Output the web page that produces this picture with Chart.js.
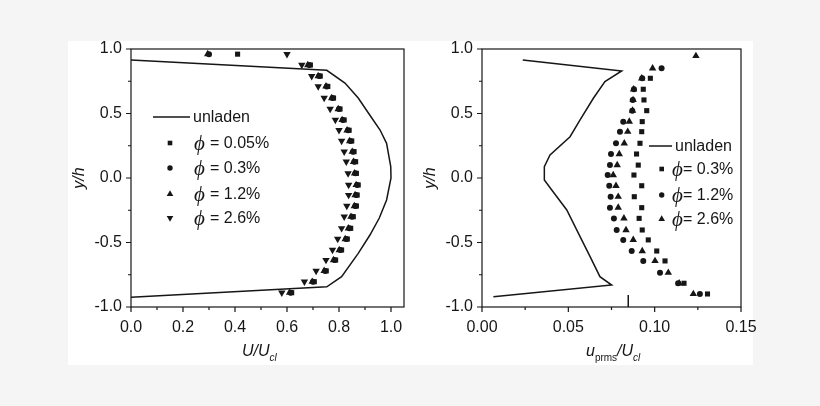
<!DOCTYPE html>
<html>
<head>
<meta charset="utf-8">
<script src="https://cdn.jsdelivr.net/npm/chart.js@4.4.0/dist/chart.umd.min.js"></script>
<style>
  html, body { margin: 0; padding: 0; background: #f5f5f5; }
  #wrap { position: relative; width: 820px; height: 406px; overflow: hidden; }
  #paper { position: absolute; left: 68px; top: 41px; width: 685px; height: 324px; background: #fff; }
  #c1 { position: absolute; left: 0; top: 0; }
  #c2 { position: absolute; left: 420px; top: 0; }
</style>
</head>
<body>
<div id="wrap">
  <div id="paper"></div>
  <canvas id="c1" width="420" height="406"></canvas>
  <canvas id="c2" width="400" height="406"></canvas>
</div>
<script>
// left panel: mean velocity
const leftY = [0.96, 0.876, 0.79, 0.71, 0.62, 0.535, 0.45, 0.37, 0.287, 0.204, 0.126, 0.036, -0.054, -0.132, -0.217, -0.30, -0.39, -0.473, -0.558, -0.636, -0.72, -0.804, -0.889];
const phi005 = [0.41, 0.69, 0.728, 0.757, 0.779, 0.804, 0.82, 0.839, 0.849, 0.858, 0.864, 0.867, 0.874, 0.87, 0.867, 0.855, 0.845, 0.832, 0.81, 0.787, 0.751, 0.705, 0.618];
const phi03 = [0.30, 0.685, 0.724, 0.753, 0.775, 0.80, 0.815, 0.835, 0.844, 0.854, 0.859, 0.863, 0.87, 0.866, 0.863, 0.85, 0.84, 0.828, 0.805, 0.783, 0.747, 0.70, 0.614];
const phi12 = [0.295, 0.68, 0.72, 0.75, 0.772, 0.797, 0.812, 0.831, 0.841, 0.851, 0.856, 0.86, 0.866, 0.862, 0.859, 0.846, 0.836, 0.824, 0.801, 0.779, 0.743, 0.697, 0.61];
const phi26 = [0.60, 0.657, 0.695, 0.72, 0.743, 0.766, 0.786, 0.80, 0.81, 0.82, 0.828, 0.835, 0.837, 0.837, 0.83, 0.82, 0.81, 0.795, 0.775, 0.75, 0.712, 0.667, 0.58];
const unladenUX = [0, 0.753, 0.823, 0.874, 0.913, 0.958, 0.983, 0.999, 1.0, 0.983, 0.955, 0.919, 0.874, 0.81, 0.753, 0];
const unladenUY = [0.915, 0.835, 0.736, 0.62, 0.504, 0.372, 0.269, 0.088, 0.0, -0.17, -0.31, -0.442, -0.584, -0.765, -0.843, -0.925];

// right panel: rms fluctuation
const rightY = [0.946, 0.85, 0.773, 0.688, 0.605, 0.522, 0.437, 0.359, 0.269, 0.186, 0.10, 0.023, -0.06, -0.145, -0.23, -0.313, -0.403, -0.48, -0.566, -0.643, -0.734, -0.816, -0.899];
const rms03 = [null, null, 0.0975, 0.0934, 0.0938, 0.0954, 0.0928, 0.0925, 0.0915, 0.0895, 0.0905, 0.088, 0.0925, 0.0882, 0.0925, 0.091, 0.0928, 0.0963, 0.1012, 0.106, null, 0.117, 0.1306];
const rms12 = [null, 0.104, 0.0928, 0.088, 0.0873, 0.087, 0.0818, 0.0799, 0.0776, 0.0747, 0.0741, 0.0728, 0.0737, 0.0745, 0.0741, 0.0764, 0.078, 0.0818, 0.0867, 0.0934, 0.1031, 0.1136, 0.1262];
const rms26 = [0.1239, 0.0988, 0.0925, 0.0878, 0.0875, 0.0872, 0.0853, 0.0844, 0.0824, 0.0795, 0.0783, 0.076, 0.0776, 0.0789, 0.0789, 0.0822, 0.0834, 0.0876, 0.0928, 0.1002, 0.1079, 0.1142, 0.1224];
const unladenRX = [0.0236, 0.0809, 0.0712, 0.0645, 0.0568, 0.051, 0.0394, 0.0361, 0.0361, 0.0404, 0.0491, 0.0568, 0.0626, 0.0683, 0.0751, 0.0066];
const unladenRY = [0.915, 0.83, 0.747, 0.618, 0.45, 0.32, 0.178, 0.088, -0.016, -0.093, -0.248, -0.455, -0.61, -0.765, -0.83, -0.92];
const markX = [0.0847, 0.0847];
const markY = [-1, -0.907];

// ticks
const yTicks = [-1, -0.75, -0.5, -0.25, 0, 0.25, 0.5, 0.75, 1];
const yLabels = ['-1.0', '', '-0.5', '', '0.0', '', '0.5', '', '1.0'];
const uTicks = [0, 0.1, 0.2, 0.3, 0.4, 0.5, 0.6, 0.7, 0.8, 0.9, 1.0];
const uLabels = ['0.0', '', '0.2', '', '0.4', '', '0.6', '', '0.8', '', '1.0'];
const rmsTicks = [0, 0.025, 0.05, 0.075, 0.1, 0.125, 0.15];
const rmsLabels = ['0.00', '', '0.05', '', '0.10', '', '0.15'];

const leftLegend = ['= 0.05%', '= 0.3%', '= 1.2%', '= 2.6%'];
const rightLegend = ['= 0.3%', '= 1.2%', '= 2.6%'];

const INK = '#161616';
Chart.defaults.font.family = '"Liberation Sans", Arial, sans-serif';
Chart.defaults.font.size = 16;
Chart.defaults.color = INK;

function pts(xs, ys) {
  const out = [];
  xs.forEach((x, i) => { if (x !== null) out.push({ x: x, y: ys[i] }); });
  return out;
}

function markers(label, xs, ys, style, radius, rotation) {
  return {
    label: label,
    data: pts(xs, ys),
    pointStyle: style,
    pointRadius: radius,
    pointRotation: rotation || 0,
    pointBackgroundColor: INK,
    pointBorderWidth: 0,
    showLine: false
  };
}

function curve(label, xs, ys) {
  return {
    label: label,
    data: pts(xs, ys),
    showLine: true,
    borderColor: INK,
    borderWidth: 1.5,
    pointRadius: 0,
    tension: 0
  };
}

function axis(vals, labels, min, max, size, horiz) {
  return {
    type: 'linear',
    min: min,
    max: max,
    afterBuildTicks: s => { s.ticks = vals.map(v => ({ value: v })); },
    afterFit: s => { if (horiz) s.height = size; else s.width = size; },
    ticks: {
      autoSkip: false,
      maxRotation: 0,
      padding: horiz ? 6 : 4,
      callback: (v, i) => labels[i]
    },
    grid: { drawOnChartArea: false, tickLength: 5, tickColor: 'rgba(0,0,0,0)' },
    border: { display: false }
  };
}

function drawMark(ctx, style, x, y) {
  ctx.beginPath();
  if (style === 'rect') ctx.rect(x - 2.3, y - 2.3, 4.6, 4.6);
  else if (style === 'circle') ctx.arc(x, y, 2.7, 0, Math.PI * 2);
  else if (style === 'up') { ctx.moveTo(x, y - 3.8); ctx.lineTo(x + 3.3, y + 2); ctx.lineTo(x - 3.3, y + 2); }
  else { ctx.moveTo(x, y + 3.8); ctx.lineTo(x + 3.3, y - 2); ctx.lineTo(x - 3.3, y - 2); }
  ctx.closePath();
  ctx.fill();
}

// frame, tick marks, axis titles and legend
function decor(opts) {
  return {
    id: 'decor',
    afterDraw(chart) {
      const ctx = chart.ctx;
      const a = chart.chartArea;
      ctx.save();
      ctx.strokeStyle = INK;
      ctx.fillStyle = INK;
      ctx.lineWidth = 1.2;
      ctx.strokeRect(a.left, a.top, a.right - a.left, a.bottom - a.top);
      const sx = chart.scales.x, sy = chart.scales.y;
      ctx.beginPath();
      sx.ticks.forEach((t, i) => {
        const p = sx.getPixelForValue(t.value);
        ctx.moveTo(p, a.bottom); ctx.lineTo(p, a.bottom + (opts.xLabels[i] ? 5 : 3));
      });
      sy.ticks.forEach((t, i) => {
        const p = sy.getPixelForValue(t.value);
        ctx.moveTo(a.left, p); ctx.lineTo(a.left - (yLabels[i] ? 5 : 3), p);
      });
      ctx.stroke();

      // y title
      ctx.save();
      ctx.translate(opts.yTitleX, (a.top + a.bottom) / 2);
      ctx.rotate(-Math.PI / 2);
      ctx.font = 'italic 16px "Liberation Sans", Arial, sans-serif';
      ctx.textAlign = 'center';
      ctx.textBaseline = 'alphabetic';
      ctx.fillText('y/h', 0, 0);
      ctx.restore();

      // x title, pieces with subscripts
      ctx.textAlign = 'left';
      ctx.textBaseline = 'alphabetic';
      let x = opts.xTitleX;
      opts.xTitle.forEach(piece => {
        ctx.font = piece.font;
        ctx.fillText(piece.t, x, 356 + (piece.sub ? 5 : 0));
        x += ctx.measureText(piece.t).width;
      });

      // legend
      const L = opts.legend;
      ctx.lineWidth = 1.5;
      ctx.beginPath();
      ctx.moveTo(L.lineX0, L.lineY); ctx.lineTo(L.lineX1, L.lineY);
      ctx.stroke();
      ctx.textBaseline = 'middle';
      ctx.font = '16px "Liberation Sans", Arial, sans-serif';
      ctx.fillText('unladen', L.lineX1 + 3, L.lineY + 1);
      L.rows.forEach((txt, i) => {
        const y = L.rowY[i];
        drawMark(ctx, L.styles[i], L.markX, y);
        ctx.font = 'italic 21px "Liberation Serif", "DejaVu Serif", serif';
        ctx.fillText('\u03D5', L.phiX, y + 1);
        ctx.font = '16px "Liberation Sans", Arial, sans-serif';
        ctx.fillText(txt, L.textX, y + 1);
      });
      ctx.restore();
    }
  };
}

const italic16 = 'italic 16px "Liberation Sans", Arial, sans-serif';
const italic10 = 'italic 10px "Liberation Sans", Arial, sans-serif';
const plain10 = '10px "Liberation Sans", Arial, sans-serif';

new Chart(document.getElementById('c1'), {
  type: 'scatter',
  data: {
    datasets: [
      curve('unladen', unladenUX, unladenUY),
      markers('0.05%', phi005, leftY, 'rect', 3.6),
      markers('0.3%', phi03, leftY, 'circle', 3),
      markers('1.2%', phi12, leftY, 'triangle', 4.3),
      markers('2.6%', phi26, leftY, 'triangle', 4.3, 180)
    ]
  },
  options: {
    responsive: false,
    animation: false,
    layout: { padding: { left: 0, top: 49, right: 16, bottom: 0 } },
    plugins: { legend: { display: false }, tooltip: { enabled: false } },
    scales: {
      x: axis(uTicks, uLabels, 0, 1.05, 99, true),
      y: axis(yTicks, yLabels, -1, 1, 131, false)
    }
  },
  plugins: [decor({
    xLabels: uLabels,
    yTitleX: 84,
    xTitleX: 242,
    xTitle: [{ t: 'U/U', font: italic16 }, { t: 'cl', font: italic10, sub: true }],
    legend: {
      lineX0: 153, lineX1: 190, lineY: 117,
      markX: 170, phiX: 194, textX: 210,
      rowY: [143, 168, 194, 218],
      styles: ['rect', 'circle', 'up', 'down'],
      rows: leftLegend
    }
  })]
});

new Chart(document.getElementById('c2'), {
  type: 'scatter',
  data: {
    datasets: [
      curve('unladen', unladenRX, unladenRY),
      curve('mark', markX, markY),
      markers('0.3%', rms03, rightY, 'rect', 3.6),
      markers('1.2%', rms12, rightY, 'circle', 3),
      markers('2.6%', rms26, rightY, 'triangle', 4.3)
    ]
  },
  options: {
    responsive: false,
    animation: false,
    layout: { padding: { left: 0, top: 49, right: 79, bottom: 0 } },
    plugins: { legend: { display: false }, tooltip: { enabled: false } },
    scales: {
      x: axis(rmsTicks, rmsLabels, 0, 0.15, 99, true),
      y: axis(yTicks, yLabels, -1, 1, 62, false)
    }
  },
  plugins: [decor({
    xLabels: rmsLabels,
    yTitleX: 15,
    xTitleX: 166,
    xTitle: [{ t: 'u', font: italic16 }, { t: 'prms', font: plain10, sub: true },
             { t: '/U', font: italic16 }, { t: 'cl', font: italic10, sub: true }],
    legend: {
      lineX0: 229, lineX1: 252, lineY: 146,
      markX: 241.7, phiX: 252, textX: 263,
      rowY: [169, 195, 219],
      styles: ['rect', 'circle', 'up'],
      rows: rightLegend
    }
  })]
});
</script>
</body>
</html>
